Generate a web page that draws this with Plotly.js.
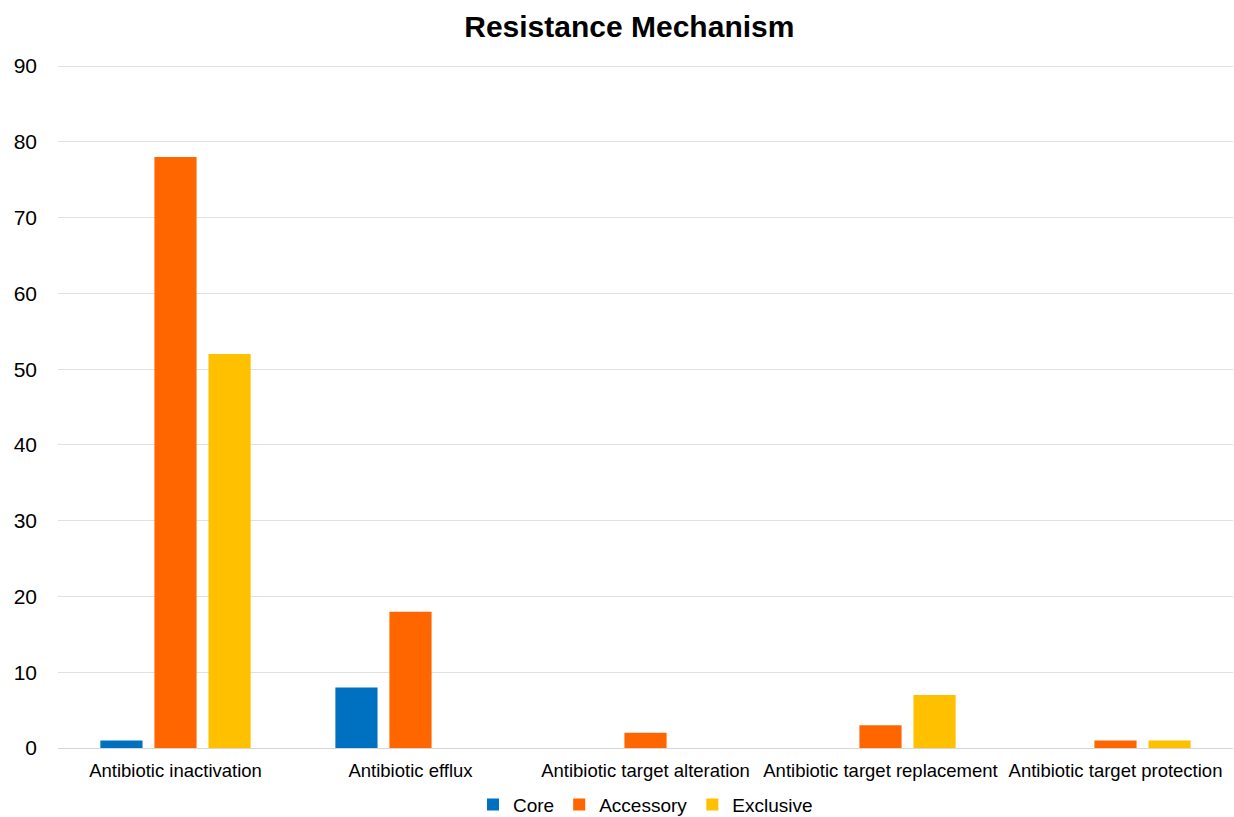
<!DOCTYPE html>
<html>
<head>
<meta charset="utf-8">
<script src="https://cdn.plot.ly/plotly-3.0.1.min.js"></script>
<style>
  html, body { margin: 0; padding: 0; background: #ffffff; }
  #chart { width: 1234px; height: 817px; }
</style>
</head>
<body>
<div id="chart"></div>
<script>
// Resistance mechanism categories
const categories = [
  "Antibiotic inactivation",
  "Antibiotic efflux",
  "Antibiotic target alteration",
  "Antibiotic target replacement",
  "Antibiotic target protection"
];

// Gene counts per pangenome partition
const coreValues      = [1, 8, 0, 0, 0];
const accessoryValues = [78, 18, 2, 3, 1];
const exclusiveValues = [52, 0, 0, 7, 1];

const yTickValues = [0, 10, 20, 30, 40, 50, 60, 70, 80, 90];

const seriesDefs = [
  { name: "Core",      values: coreValues,      color: "#0070C0" },
  { name: "Accessory", values: accessoryValues, color: "#FF6600" },
  { name: "Exclusive", values: exclusiveValues, color: "#FFC000" }
];

const traces = seriesDefs.map(s => ({
  type: "bar",
  name: s.name,
  x: categories,
  y: s.values,
  marker: { color: s.color },
  hoverinfo: "x+y+name"
}));

const layout = {
  width: 1234,
  height: 817,
  paper_bgcolor: "#ffffff",
  plot_bgcolor: "#ffffff",
  font: { family: "Liberation Sans, Arial, sans-serif", color: "#000000" },
  title: {
    text: "<b>Resistance Mechanism</b>",
    font: { size: 30, color: "#000000", family: "Liberation Sans, Arial, sans-serif" },
    x: 0.51,
    xanchor: "center",
    yref: "container",
    y: 0.967,
    yanchor: "middle"
  },
  margin: { l: 58, r: 1, t: 65, b: 69 },
  barmode: "group",
  bargap: 0.31,
  bargroupgap: 0.22,
  xaxis: {
    type: "category",
    showgrid: false,
    showline: false,
    ticks: "",
    tickfont: { size: 18.5, color: "#000000" },
    ticklabelstandoff: 9,
    automargin: false
  },
  yaxis: {
    range: [0, 90.15],
    tickvals: yTickValues,
    ticktext: yTickValues.map(String),
    showgrid: true,
    gridcolor: "#e0e0e0",
    gridwidth: 1,
    zeroline: true,
    zerolinecolor: "#d6d6d6",
    zerolinewidth: 1,
    showline: false,
    ticks: "",
    tickfont: { size: 21, color: "#000000" },
    ticklabelstandoff: 20,
    automargin: false
  },
  showlegend: true,
  legend: {
    orientation: "h",
    x: 0.5,
    xanchor: "center",
    yref: "container",
    y: 0.015,
    yanchor: "middle",
    font: { size: 19, color: "#000000" },
    itemwidth: 30,
    traceorder: "normal"
  }
};

Plotly.newPlot("chart", traces, layout, { displayModeBar: false, staticPlot: true });
</script>
</body>
</html>
